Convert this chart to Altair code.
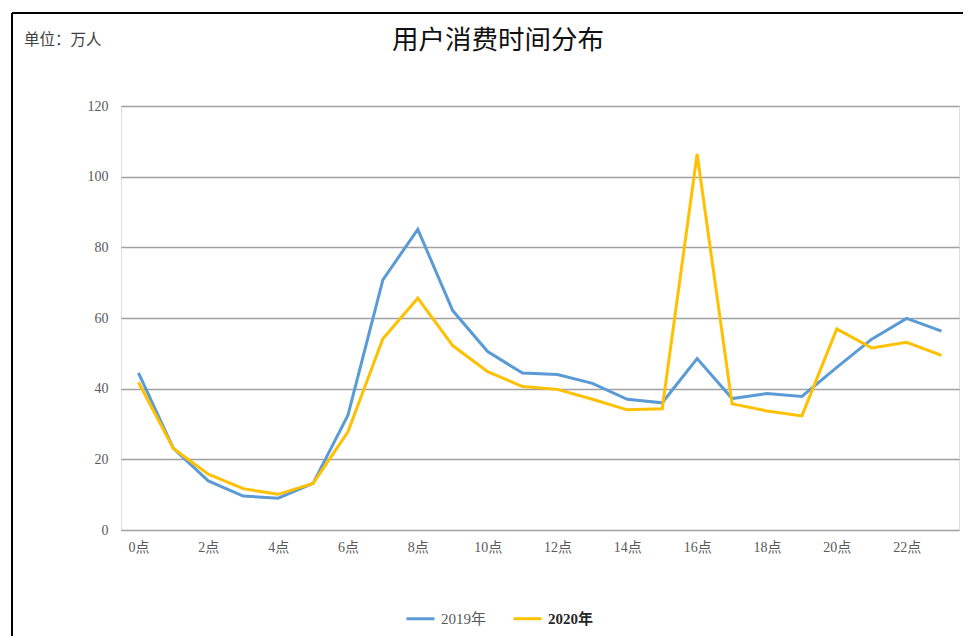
import altair as alt
import pandas as pd

hours = [f"{h}点" for h in range(24)]
tick_hours = [f"{h}点" for h in range(0, 24, 2)]
years = ["2019年", "2020年"]
v2019 = [44.5, 23.1, 13.9, 9.6, 9.0, 13.2, 32.5, 70.8, 85.1, 62.1, 50.5, 44.4,
         44.0, 41.5, 37.0, 36.0, 48.5, 37.2, 38.6, 37.8, 46.0, 54.0, 59.9, 56.3]
v2020 = [41.8, 23.1, 15.8, 11.7, 10.1, 13.2, 27.8, 54.1, 65.6, 52.2, 44.8, 40.6,
         39.8, 37.0, 34.0, 34.3, 106.4, 35.7, 33.7, 32.3, 56.9, 51.5, 53.1, 49.4]
y_ticks = [0, 20, 40, 60, 80, 100, 120]
title_text = "用户消费时间分布"
unit_text = "单位：万人"
colors = ["#5B9BD5", "#FFC000"]

rows = []
for y, vals in zip(years, [v2019, v2020]):
    for h, v in zip(hours, vals):
        rows.append({"hour": h, "value": v, "year": y})
df = pd.DataFrame(rows)

serif = "Liberation Serif, Noto Sans CJK SC"

lines = alt.Chart(df).mark_line(strokeWidth=3).encode(
    x=alt.X("hour:N", sort=hours, scale=alt.Scale(domain=hours, paddingInner=0, paddingOuter=0),
            axis=alt.Axis(title=None, values=tick_hours, labelAngle=0, domain=False, ticks=False,
                          labelPadding=10, labelFont=serif, labelFontSize=14, labelColor="#595959",
                          grid=False)),
    y=alt.Y("value:Q", scale=alt.Scale(domain=[0, 120], nice=False),
            axis=alt.Axis(title=None, values=y_ticks, domain=False, ticks=False, labelPadding=13,
                          labelFont=serif, labelFontSize=14, labelColor="#595959",
                          gridColor="#A0A0A0", gridWidth=1.3)),
    color=alt.Color("year:N", scale=alt.Scale(domain=years, range=colors),
                    legend=alt.Legend(title=None, orient="none", direction="horizontal",
                                      legendX=284, legendY=497, symbolType="stroke",
                                      symbolSize=784, symbolStrokeWidth=3, labelOffset=5,
                                      columnPadding=20, labelFont=serif, labelFontSize=15,
                                      labelFontWeight={"expr": "datum.label == '2020年' ? 'bold' : 'normal'"},
                                      labelColor={"expr": "datum.label == '2020年' ? '#262626' : '#595959'"})),
)

title_mark = alt.Chart(pd.DataFrame({"t": [title_text]})).mark_text(
    font="Noto Sans CJK SC", fontSize=26.5, color="#111111", align="center", baseline="middle"
).encode(text="t:N", x=alt.value(377), y=alt.value(-65))

unit_mark = alt.Chart(pd.DataFrame({"t": [unit_text]})).mark_text(
    font=serif, fontSize=15.5, color="#404040", align="left", baseline="middle"
).encode(text="t:N", x=alt.value(-97), y=alt.value(-66))

border_top = alt.Chart(pd.DataFrame({"a": [0]})).mark_rule(color="black", strokeWidth=2).encode(
    x=alt.value(-109), x2=alt.value(842), y=alt.value(-93))
border_left = alt.Chart(pd.DataFrame({"a": [0]})).mark_rule(color="black", strokeWidth=2).encode(
    x=alt.value(-109), y=alt.value(-93), y2=alt.value(530))

chart = alt.layer(lines, title_mark, unit_mark, border_top, border_left).properties(
    width=838, height=424,
    autosize=alt.AutoSizeParams(type="none"),
    padding={"left": 113, "top": 98, "right": 4, "bottom": 106},
).configure_view(stroke=None).configure(background="white")

chart.save("out.html", embed_options={"renderer": "svg", "actions": False})
